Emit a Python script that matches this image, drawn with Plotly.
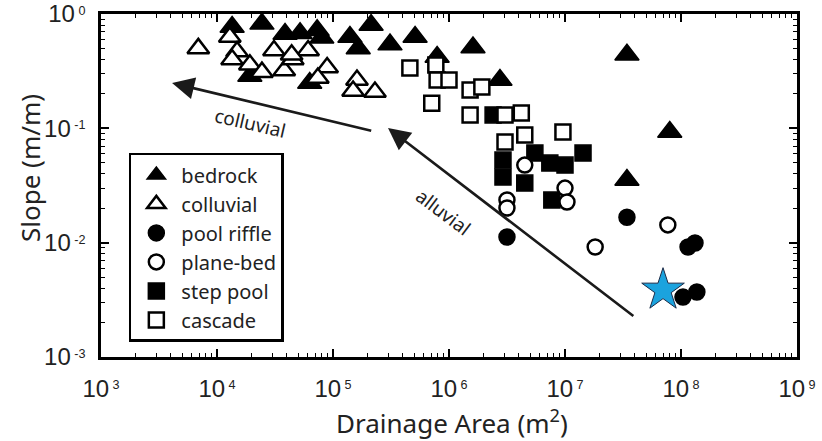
import numpy as np
import plotly.graph_objects as go

# ---- data: drainage area (m^2) and channel slope (m/m) ----
bedrock_area = [1.35e4, 2.44e4, 3.86e4, 5.2e4, 7.3e4, 8.0e4, 1.4e5, 1.65e5, 2.13e5, 3.1e5,
                5.1e5, 7.9e5, 1.61e6, 2.75e6, 3.42e7, 8.0e7, 3.42e7, 6.3e4, 1.92e4]
bedrock_slope = [0.77, 0.82, 0.67, 0.68, 0.72, 0.62, 0.63, 0.50, 0.80, 0.54,
                 0.63, 0.42, 0.51, 0.265, 0.44, 0.093, 0.0353, 0.249, 0.287]

colluvial_area = [6.9e3, 1.29e4, 1.49e4, 1.35e4, 1.92e4, 2.44e4, 3.1e4, 3.8e4, 4.5e4, 6.1e4,
                  8.9e4, 7.4e4, 1.61e5, 1.49e5, 2.3e5, 4.4e4]
colluvial_slope = [0.50, 0.63, 0.47, 0.40, 0.36, 0.31, 0.48, 0.32, 0.40, 0.48,
                   0.34, 0.275, 0.265, 0.212, 0.208, 0.44]

poolriffle_area = [3.16e6, 3.42e7, 1.15e8, 1.32e8, 1.04e8, 1.37e8]
poolriffle_slope = [0.0112, 0.0167, 0.00916, 0.00993, 0.00334, 0.0037]

planebed_area = [4.5e6, 3.16e6, 3.16e6, 1.0e7, 1.04e7, 1.82e7, 7.7e7]
planebed_slope = [0.0477, 0.0236, 0.0201, 0.030, 0.0227, 0.00916, 0.0143]

steppool_area = [2.4e6, 2.92e6, 2.92e6, 4.5e6, 5.5e6, 7.4e6, 1.0e7, 1.43e7, 7.7e6]
steppool_slope = [0.131, 0.0528, 0.0375, 0.0332, 0.0608, 0.0497, 0.0477, 0.0608, 0.0236]

cascade_area = [4.6e5, 7.7e5, 7.9e5, 1.0e6, 7.1e5, 1.52e6, 1.92e6, 1.52e6, 3.04e6, 4.2e6,
                4.5e6, 3.04e6, 9.6e6]
cascade_slope = [0.337, 0.358, 0.265, 0.265, 0.166, 0.216, 0.23, 0.131, 0.131, 0.136,
                 0.0874, 0.076, 0.093]

star_area = [7.0e7]
star_slope = [0.00385]

# arrows (tail -> head) and their labels
colluvial_arrow_area = [2.2e5, 4.1e3]
colluvial_arrow_slope = [0.0947, 0.249]
alluvial_arrow_area = [4.0e7, 2.98e5]
alluvial_arrow_slope = [0.00223, 0.1007]
colluvial_label = (1.92e4, 0.111)
alluvial_label = (8.9e5, 0.0185)

x_tick_exp = [3, 4, 5, 6, 7, 8, 9]
y_tick_exp = [-3, -2, -1, 0]

FONT_SANS = "Noto Sans"
FONT_TICK = "Liberation Sans"

fig = go.Figure()

def add(name, xs, ys, symbol, size, fill, lw, rank):
    fig.add_trace(go.Scatter(
        x=xs, y=ys, mode="markers", name=name, legendrank=rank,
        marker=dict(symbol=symbol, size=size, color=fill,
                    line=dict(color="black", width=lw)),
    ))

# drawing order: filled below open
add("bedrock", bedrock_area, bedrock_slope, "triangle-up", 21, "black", 1.5, 1)
add("step pool", steppool_area, steppool_slope, "square", 16, "black", 1.5, 5)
add("colluvial", colluvial_area, colluvial_slope, "triangle-up", 19, "white", 2.5, 2)
add("cascade", cascade_area, cascade_slope, "square", 15, "white", 2.5, 6)
add("pool riffle", poolriffle_area, poolriffle_slope, "circle", 16, "black", 1.5, 3)
add("plane-bed", planebed_area, planebed_slope, "circle", 15, "white", 2.5, 4)
fig.add_trace(go.Scatter(
    x=star_area, y=star_slope, mode="markers", showlegend=False,
    marker=dict(symbol="star", size=32, color="#1BA3DE",
                line=dict(color="#1b2b48", width=1)),
))

for a, s in [(colluvial_arrow_area, colluvial_arrow_slope), (alluvial_arrow_area, alluvial_arrow_slope)]:
    fig.add_annotation(
        x=np.log10(a[1]), y=np.log10(s[1]), ax=np.log10(a[0]), ay=np.log10(s[0]),
        xref="x", yref="y", axref="x", ayref="y", text="",
        showarrow=True, arrowhead=2, arrowsize=1.7, arrowwidth=2.6, arrowcolor="#1a1a1a",
        standoff=0, startstandoff=0,
    )

fig.add_annotation(x=np.log10(colluvial_label[0]), y=np.log10(colluvial_label[1]),
                   xref="x", yref="y", text="colluvial", showarrow=False, textangle=13,
                   font=dict(family=FONT_SANS, size=19, color="#222"))
fig.add_annotation(x=np.log10(alluvial_label[0]), y=np.log10(alluvial_label[1]),
                   xref="x", yref="y", text="alluvial", showarrow=False, textangle=37,
                   font=dict(family=FONT_SANS, size=19, color="#222"))

# axis titles
fig.add_annotation(x=-0.102, y=0.551, xref="paper", yref="paper", text="Slope (m/m)",
                   xanchor="center", yanchor="middle",
                   showarrow=False, textangle=-90,
                   font=dict(family=FONT_SANS, size=26, color="#222"))
fig.add_annotation(x=0.504, y=-0.19, xref="paper", yref="paper", text="Drainage Area (m<sup>2</sup>)",
                   xanchor="center", yanchor="middle",
                   showarrow=False,
                   font=dict(family=FONT_SANS, size=26, color="#222"))

def minor_vals(lo, hi):
    out = []
    for e in range(lo, hi):
        for m in range(2, 10):
            out.append(m * 10.0 ** e)
    return out

axis_common = dict(
    type="log", showgrid=False, zeroline=False, automargin=False,
    showline=True, linecolor="black", linewidth=2.5, mirror="ticks",
    ticks="inside", ticklen=8, tickwidth=1.5, tickcolor="black",
    tickfont=dict(family=FONT_TICK, size=24, color="#222"),
)

def tick_label(e):
    return f"10<span style='font-size:18px'><sup> {e}</sup></span>"

fig.update_xaxes(
    **axis_common, range=[3, 9],
    tickvals=[10.0 ** e for e in x_tick_exp],
    ticktext=[tick_label(e) for e in x_tick_exp],
    ticklabelstandoff=8,
    minor=dict(ticks="inside", ticklen=4, tickwidth=1.2, tickcolor="black",
               tickvals=minor_vals(3, 9)),
)
fig.update_yaxes(
    **axis_common, range=[-3, 0],
    tickvals=[10.0 ** e for e in y_tick_exp],
    ticktext=[tick_label(e) for e in y_tick_exp],
    ticklabelstandoff=8,
    minor=dict(ticks="inside", ticklen=4, tickwidth=1.2, tickcolor="black",
               tickvals=minor_vals(-3, 0)),
)

fig.update_layout(
    width=822, height=441,
    margin=dict(l=101, r=25, t=14, b=84, autoexpand=False),
    paper_bgcolor="white", plot_bgcolor="white",
    legend=dict(x=0.04, y=0.595, xanchor="left", yanchor="top",
                bordercolor="black", borderwidth=2.5, bgcolor="white",
                font=dict(family=FONT_SANS, size=20, color="#222"),
                itemwidth=40, traceorder="normal"),
    showlegend=True,
)

fig.write_html("out.html")
